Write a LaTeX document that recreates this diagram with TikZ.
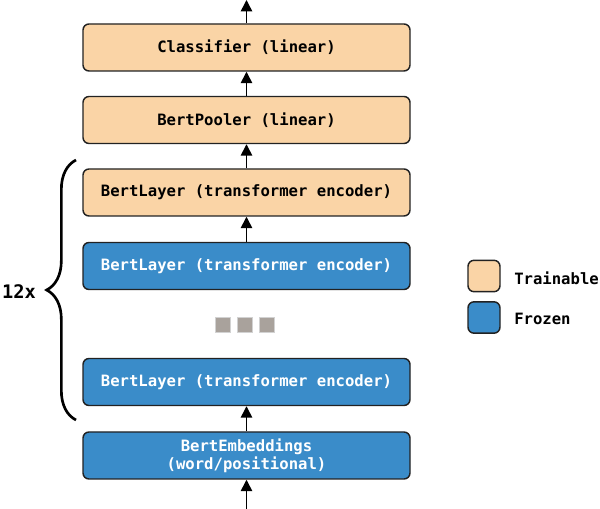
\documentclass[tikz,border=0pt]{standalone}
\usepackage{fontspec}
\setmonofont{DejaVu Sans Mono}
\usetikzlibrary{arrows.meta,decorations.pathreplacing}
\definecolor{trainfill}{HTML}{FAD4A6}
\definecolor{frozenfill}{HTML}{3A8CC9}
\definecolor{edgecol}{HTML}{222222}
\definecolor{dotfill}{HTML}{A9A29C}
\definecolor{dotedge}{HTML}{D2D2D2}
\tikzset{
  layerbox/.style={draw=edgecol, line width=1.1pt, rounded corners=4.5pt,
    minimum width=245.25pt, minimum height=35.25pt, inner sep=0pt, align=center,
    font=\ttfamily\bfseries\fontsize{11.7pt}{13.5pt}\selectfont},
  trainbox/.style={layerbox, fill=trainfill, text=black},
  frozenbox/.style={layerbox, fill=frozenfill, text=white},
  legbox/.style={draw=edgecol, line width=1.1pt, rounded corners=4.5pt,
    minimum width=24pt, minimum height=23.5pt, inner sep=0pt},
  legtext/.style={anchor=west, inner sep=0pt, font=\ttfamily\bfseries\fontsize{11.7pt}{13.5pt}\selectfont},
  flow/.style={line width=1.1pt, -{Triangle[width=8.5pt,length=8.5pt]}},
  dotbox/.style={draw=dotedge, fill=dotfill, line width=0.6pt, minimum size=11.5pt, inner sep=0pt},
}
\begin{document}
\begin{tikzpicture}[x=0.75pt,y=-0.75pt]
\useasboundingbox (0,0) rectangle (600,509);
\node[trainbox] (cls) at (246.5,47.5) {Classifier (linear)};
\node[trainbox] (pool) at (246.5,120) {BertPooler (linear)};
\node[trainbox] (l1) at (246.5,192.5) {BertLayer (transformer encoder)};
\node[frozenbox] (l2) at (246.5,266) {BertLayer (transformer encoder)};
\node[frozenbox] (l3) at (246.5,382) {BertLayer (transformer encoder)};
\node[frozenbox] (emb) at (246.5,455.5) {BertEmbeddings\\(word/positional)};
\coordinate (top) at (246.5,0);
\coordinate (bot) at (246.5,509);
\draw[flow] (cls.north) -- (top);
\draw[flow] (pool.north) -- (cls.south);
\draw[flow] (l1.north) -- (pool.south);
\draw[flow] (l2.north) -- (l1.south);
\draw[flow] (emb.north) -- (l3.south);
\draw[flow] (bot) -- (emb.south);
\node[dotbox] (d1) at (223,325) {};
\node[dotbox] (d2) at (245,325) {};
\node[dotbox] (d3) at (267,325) {};
\coordinate (bb) at (76,420);
\coordinate (bt) at (76,160);
\draw[line width=2pt, decorate, decoration={brace, amplitude=22pt}] (bb) -- (bt);
\node[font=\ttfamily\bfseries\fontsize{14pt}{16pt}\selectfont, inner sep=0pt] (rep) at (19,292) {12x};
\node[legbox, fill=trainfill] (lt) at (484,276) {};
\node[legbox, fill=frozenfill] (lf) at (484,317.5) {};
\node[legtext] (ltt) at (514,278) {Trainable};
\node[legtext] (lft) at (514,319) {Frozen};
\end{tikzpicture}
\end{document}
